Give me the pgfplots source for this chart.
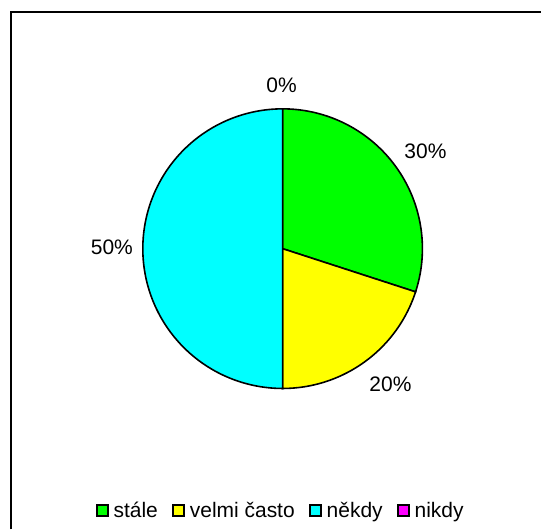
\documentclass[border=0pt]{standalone}
\usepackage{fontspec}
\setmainfont{Liberation Sans}
\usepackage{pgfplots}
\pgfplotsset{compat=1.18}
\usepackage{pgfplotstable}
\definecolor{pgreen}{RGB}{0,255,0}
\definecolor{pyellow}{RGB}{255,255,0}
\definecolor{pcyan}{RGB}{0,255,255}
\definecolor{pmagenta}{RGB}{255,0,255}
\pgfplotstableread{
label value
stale 30
velmi 20
nekdy 50
nikdy 0
}\piedata
\pgfplotstablegetelem{0}{value}\of\piedata \edef\vA{\pgfplotsretval}
\pgfplotstablegetelem{1}{value}\of\piedata \edef\vB{\pgfplotsretval}
\pgfplotstablegetelem{2}{value}\of\piedata \edef\vC{\pgfplotsretval}
\pgfplotstablegetelem{3}{value}\of\piedata \edef\vD{\pgfplotsretval}
\pgfmathsetmacro{\aA}{90}
\pgfmathsetmacro{\aB}{\aA-3.6*\vA}
\pgfmathsetmacro{\aC}{\aB-3.6*\vB}
\pgfmathsetmacro{\aD}{\aC-3.6*\vC}
\def\cx{283}
\def\cy{281}
\def\rr{140}
\begin{document}
\begin{tikzpicture}[font=\fontsize{21}{25}\selectfont]
\begin{axis}[
  x=1pt, y=1pt, xmin=0, xmax=542, ymin=0, ymax=530,
  hide axis, clip=false, anchor=south west, at={(0,0)},
  legend columns=4,
  legend image code/.code={\draw[#1, draw=black, line width=1.5pt] (0pt,-5.5pt) rectangle (11pt,5.5pt);},
  legend style={draw=none, fill=none, at={(axis cs:281,19)}, anchor=center,
    font=\fontsize{21}{25}\selectfont,
    nodes={inner sep=1.5pt},
    /tikz/every odd column/.append style={column sep=3.5pt},
    /tikz/every even column/.append style={column sep=13pt}},
]
\path (axis cs:0,0) rectangle (axis cs:542,530);
\addplot[fill=pgreen, draw=black, line width=1.6pt, domain=\aB:\aA, samples=120, variable=\t, forget plot]
  ({\cx+\rr*cos(t)}, {\cy+\rr*sin(t)}) -- (axis cs:\cx,\cy) -- cycle;
\addplot[fill=pyellow, draw=black, line width=1.6pt, domain=\aC:\aB, samples=120, variable=\t, forget plot]
  ({\cx+\rr*cos(t)}, {\cy+\rr*sin(t)}) -- (axis cs:\cx,\cy) -- cycle;
\addplot[fill=pcyan, draw=black, line width=1.6pt, domain=\aD:\aC, samples=200, variable=\t, forget plot]
  ({\cx+\rr*cos(t)}, {\cy+\rr*sin(t)}) -- (axis cs:\cx,\cy) -- cycle;
\addlegendimage{fill=pgreen}
\addlegendentry{stále}
\addlegendimage{fill=pyellow}
\addlegendentry{velmi často}
\addlegendimage{fill=pcyan}
\addlegendentry{někdy}
\addlegendimage{fill=pmagenta}
\addlegendentry{nikdy}
\node at (axis cs:282,445) {0\%};
\node at (axis cs:426,379) {30\%};
\node at (axis cs:391,145) {20\%};
\node at (axis cs:112,282) {50\%};
\draw[line width=1.5pt] (axis cs:11,0) -- (axis cs:11,518) -- (axis cs:542,518);
\end{axis}
\end{tikzpicture}
\end{document}
